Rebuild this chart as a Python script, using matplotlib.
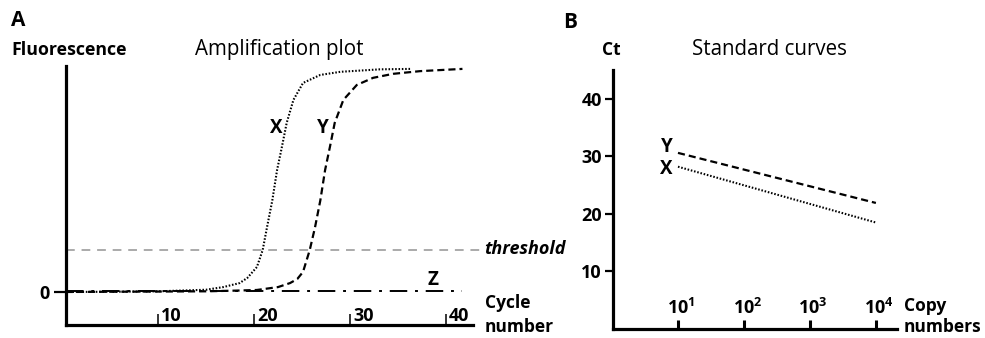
import numpy as np
import matplotlib.pyplot as plt

plt.rcParams['font.family'] = ['Open Sans', 'DejaVu Sans']
plt.rcParams['mathtext.fontset'] = 'custom'
plt.rcParams['mathtext.rm'] = 'Open Sans'
plt.rcParams['mathtext.bf'] = 'Open Sans:bold'

# ---- data ----
# panel A: amplification curves (cycle, fluorescence)
x_cycle = [0.4, 5, 10, 15, 16.8, 18.5, 19.3, 20.3, 20.9, 21.35, 21.9, 22.4, 22.9,
           23.4, 24.1, 25.1, 26.9, 29.0, 33.1, 36.3]
x_fluor = [0.0, 0.001, 0.003, 0.01, 0.022, 0.04, 0.063, 0.112, 0.188, 0.29, 0.41,
           0.547, 0.65, 0.758, 0.861, 0.937, 0.973, 0.987, 0.998, 1.0]
y_cycle = [0.4, 5, 10, 15, 18, 20.3, 22.5, 23.75, 24.5, 25.1, 25.8, 26.35, 26.9, 27.4,
           27.9, 28.4, 29.3, 30.7, 32.4, 34.5, 37.3, 41.7]
y_fluor = [0.0, 0.001, 0.002, 0.003, 0.006, 0.009, 0.022, 0.04, 0.058, 0.09, 0.188, 0.29,
           0.41, 0.547, 0.65, 0.758, 0.861, 0.928, 0.96, 0.978, 0.99, 1.0]
z_cycle = [0.4, 41.7]
z_fluor = [0.006, 0.006]
threshold = 0.19
a_xticks = [10, 20, 30, 40]

# panel B: standard curves (copy number, Ct)
copies = [10, 10000]
ct_y = [30.6, 21.9]
ct_x = [28.2, 18.5]
b_yticks = [10, 20, 30, 40]
b_xticks = [10, 100, 1000, 10000]
b_xlabels = [r'$\mathbf{10^{1}}$', r'$\mathbf{10^{2}}$', r'$\mathbf{10^{3}}$', r'$\mathbf{10^{4}}$']

W, H = 985, 338
fig = plt.figure(figsize=(W / 100, H / 100), dpi=100)


def box(l, t, r, b):
    return [l / W, 1 - b / H, (r - l) / W, (b - t) / H]


def ftext(x, y, s, **kw):
    fig.text(x / W, 1 - y / H, s, **kw)


dotted = (0, (0.75, 0.85))
dashed = (0, (3.2, 1.8))

# ================= Panel A =================
ax = fig.add_axes(box(66, 66, 473, 325))
ax.set_xlim(0.42, 42.8)
ax.set_ylim(-0.148, 1.013)
for s in ['top', 'right']:
    ax.spines[s].set_visible(False)
for s in ['left', 'bottom']:
    ax.spines[s].set_linewidth(2.3)

ax.plot(x_cycle, x_fluor, color='black', lw=1.5, linestyle=dotted, clip_on=False)
ax.plot(y_cycle, y_fluor, color='black', lw=1.6, linestyle=dashed, clip_on=False)
ax.plot(z_cycle, z_fluor, color='black', lw=1.4, linestyle=(0, (9, 4, 1.5, 4)), clip_on=False)
ax.axhline(threshold, xmin=0, xmax=1.02, color='#aaaaaa', lw=1.4,
           linestyle=(0, (4.5, 3.5)), clip_on=False)

ax.set_xticks(a_xticks)
ax.set_xticklabels([])
ax.tick_params(axis='x', direction='in', length=8, width=1.1)
for t in a_xticks:
    ax.text(t + 0.3, -0.108, str(t), ha='left', va='center',
            fontsize=13, fontweight='bold')
ax.set_yticks([0])
ax.set_yticklabels(['0'], fontsize=13, fontweight='bold')
ax.tick_params(axis='y', direction='out', length=9, width=1.6, pad=3)

ax.text(22.3, 0.735, 'X', ha='center', va='center', fontsize=13.5, fontweight='bold')
ax.text(27.2, 0.735, 'Y', ha='center', va='center', fontsize=13.5, fontweight='bold')
ax.text(38.6, 0.054, 'Z', ha='center', va='center', fontsize=13.5, fontweight='bold')

ftext(11, 20, 'A', fontsize=15, fontweight='bold', va='center')
ftext(11, 55, 'Fluorescence', fontsize=12.8, fontweight='bold', va='baseline')
ftext(195, 55, 'Amplification plot', fontsize=14.8, va='baseline')
ftext(484, 254, 'threshold', fontsize=13, fontweight='bold', style='italic', va='baseline')
ftext(485, 308, 'Cycle', fontsize=12.5, fontweight='bold', va='baseline')
ftext(485, 332, 'number', fontsize=12.5, fontweight='bold', va='baseline')

# ================= Panel B =================
bx = fig.add_axes(box(613, 70, 897, 329))
bx.set_xscale('log')
bx.set_xlim(10 ** 0.015, 10 ** 4.32)
bx.set_ylim(0.0, 45.0)
for s in ['top', 'right']:
    bx.spines[s].set_visible(False)
for s in ['left', 'bottom']:
    bx.spines[s].set_linewidth(2.3)

bx.plot(copies, ct_y, color='black', lw=1.6, linestyle=dashed)
bx.plot(copies, ct_x, color='black', lw=1.5, linestyle=dotted)

bx.set_yticks(b_yticks)
bx.set_yticklabels([str(v) for v in b_yticks], fontsize=13, fontweight='bold')
bx.tick_params(axis='y', direction='out', length=6, width=1.6, pad=2)
bx.set_xticks(b_xticks)
bx.xaxis.set_minor_locator(plt.NullLocator())
bx.set_xticklabels([])
bx.tick_params(axis='x', direction='in', length=6.5, width=2.2)
for v, lab in zip(b_xticks, b_xlabels):
    bx.text(v * 10 ** 0.05, 3.6, lab, ha='center', va='center', fontsize=13)

bx.text(10 ** 0.92, 31.6, 'Y', ha='right', va='center', fontsize=13.5, fontweight='bold')
bx.text(10 ** 0.92, 27.8, 'X', ha='right', va='center', fontsize=13.5, fontweight='bold')

ftext(563, 22, 'B', fontsize=15, fontweight='bold', va='center')
ftext(602, 55, 'Ct', fontsize=12.5, fontweight='bold', va='baseline')
ftext(692, 55, 'Standard curves', fontsize=14.8, va='baseline')
ftext(904, 311, 'Copy', fontsize=12.5, fontweight='bold', va='baseline')
ftext(904, 332, 'numbers', fontsize=12.5, fontweight='bold', va='baseline')

fig.savefig('out.png', dpi=100)
